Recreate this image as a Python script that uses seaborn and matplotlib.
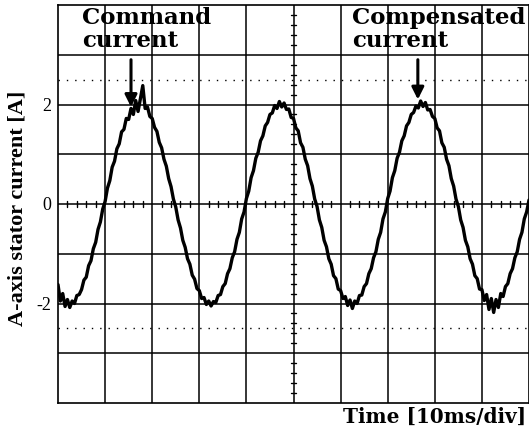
import numpy as np
import pandas as pd
import matplotlib
matplotlib.use("Agg")
import matplotlib.pyplot as plt
import seaborn as sns

# ---- data ----
time_ms = np.arange(0, 100.5, 0.5)          # 10 ms / div, 10 divisions
current_a = [
    -1.62, -1.95, -1.80, -2.06, -1.92, -2.08, -1.95, -2.00, -1.84, -1.82,
    -1.72, -1.53, -1.47, -1.24, -1.14, -0.90, -0.77, -0.51, -0.36, -0.10,
    0.05, 0.32, 0.47, 0.74, 0.86, 1.11, 1.21, 1.45, 1.50, 1.72,
    1.70, 1.92, 1.80, 2.08, 1.86, 2.12, 2.38, 1.92, 1.95, 1.76,
    1.72, 1.54, 1.46, 1.24, 1.13, 0.90, 0.76, 0.51, 0.35, 0.10,
    -0.06, -0.32, -0.48, -0.73, -0.87, -1.10, -1.21, -1.43, -1.51, -1.70,
    -1.74, -1.90, -1.88, -2.02, -1.95, -2.05, -1.96, -1.98, -1.84, -1.82,
    -1.66, -1.60, -1.40, -1.30, -1.08, -0.96, -0.71, -0.57, -0.30, -0.16,
    0.11, 0.26, 0.53, 0.67, 0.92, 1.04, 1.27, 1.37, 1.57, 1.64,
    1.80, 1.83, 1.98, 1.92, 2.06, 1.95, 2.03, 1.90, 1.91, 1.74,
    1.72, 1.53, 1.47, 1.23, 1.14, 0.90, 0.77, 0.51, 0.36, 0.10,
    -0.05, -0.32, -0.47, -0.73, -0.86, -1.10, -1.21, -1.44, -1.50, -1.71,
    -1.74, -1.90, -1.86, -2.04, -1.93, -2.10, -1.95, -2.00, -1.84, -1.83,
    -1.66, -1.60, -1.40, -1.30, -1.08, -0.96, -0.71, -0.57, -0.30, -0.16,
    0.11, 0.26, 0.53, 0.67, 0.92, 1.04, 1.27, 1.37, 1.57, 1.64,
    1.80, 1.84, 1.97, 1.93, 2.07, 1.96, 2.04, 1.89, 1.90, 1.76,
    1.72, 1.53, 1.47, 1.23, 1.14, 0.90, 0.77, 0.51, 0.36, 0.10,
    -0.05, -0.32, -0.47, -0.73, -0.86, -1.10, -1.21, -1.44, -1.50, -1.71,
    -1.72, -1.94, -1.82, -2.12, -1.90, -2.18, -1.92, -2.08, -1.80, -1.86,
    -1.66, -1.60, -1.40, -1.30, -1.08, -0.96, -0.71, -0.57, -0.30, -0.16,
    0.08,
]
y_tick_values = [-2, 0, 2]
y_tick_labels = ["-2", "0", "2"]
x_grid = [10, 20, 30, 40, 50, 60, 70, 80, 90]
y_grid = [-3, -2, -1, 0, 1, 2, 3]
dotted_levels = [-2.5, 2.5]

df = pd.DataFrame({"t": time_ms, "i": current_a})

sns.set_theme(style="white")
plt.rcParams["font.family"] = ["Liberation Serif", "DejaVu Serif"]
plt.rcParams["text.color"] = "black"
plt.rcParams["ytick.color"] = "black"
plt.rcParams["ytick.labelcolor"] = "black"

fig = plt.figure(figsize=(5.29, 4.30), dpi=100)
ax = fig.add_axes([58 / 529, 1 - 403 / 430, 471 / 529, 398 / 430])

ax.set_xlim(0, 100)
ax.set_ylim(-4, 4)

# oscilloscope graticule
for x in x_grid:
    ax.axvline(x, color="black", lw=1.1, zorder=1)
for y in y_grid:
    ax.axhline(y, color="black", lw=1.1, zorder=1)
for y in dotted_levels:
    ax.axhline(y, color="black", lw=1.0, ls=(0, (1, 5)), zorder=1)

# minor marks along the centre cross
for xm in np.arange(2, 100, 2):
    if xm % 10:
        ax.plot([xm, xm], [-0.07, 0.07], color="black", lw=1.0, zorder=1)
for ym in np.arange(-3.8, 4.0, 0.2):
    if abs(ym - round(ym)) > 1e-6:
        ax.plot([49.4, 50.6], [ym, ym], color="black", lw=1.0, zorder=1)

sns.lineplot(data=df, x="t", y="i", ax=ax, color="black", lw=2.4,
             legend=False, zorder=3)

for s in ax.spines.values():
    s.set_color("black")
    s.set_linewidth(1.2)
    s.set_visible(True)

ax.set_xticks([])
ax.set_yticks(y_tick_values)
ax.set_yticklabels(y_tick_labels, fontsize=13, family=["Liberation Serif"],
                   color="black")
ax.tick_params(axis="y", length=0, pad=5, colors="black")
ax.set_xlabel("")
ax.set_ylabel("")

fig.text(18 / 529, 1 - 208 / 430, "A-axis stator current [A]", rotation=90,
         ha="center", va="center", fontsize=16, fontweight="bold",
         family=["Liberation Serif"], color="black")
fig.text(526 / 529, 1 - 417 / 430, "Time [10ms/div]", ha="right",
         va="center", fontsize=14.4, fontweight="bold",
         family=["DejaVu Serif"], color="black")

ann_font = dict(fontsize=16.5, fontweight="bold", family=["DejaVu Serif"],
                linespacing=1.05, ha="left", va="top", color="black")
ax.text(5.1, 3.95, "Command\ncurrent", **ann_font, zorder=4)
ax.text(62.4, 3.95, "Compensated\ncurrent", **ann_font, zorder=4)

arrow = dict(arrowstyle="-|>,head_length=0.6,head_width=0.3", color="black",
             lw=2.2, shrinkA=0, shrinkB=0)
ax.annotate("", xy=(15.5, 1.95), xytext=(15.5, 2.9), arrowprops=arrow, zorder=5)
ax.annotate("", xy=(76.4, 2.1), xytext=(76.4, 2.9), arrowprops=arrow, zorder=5)

fig.savefig("out.png", dpi=100, facecolor="white")
